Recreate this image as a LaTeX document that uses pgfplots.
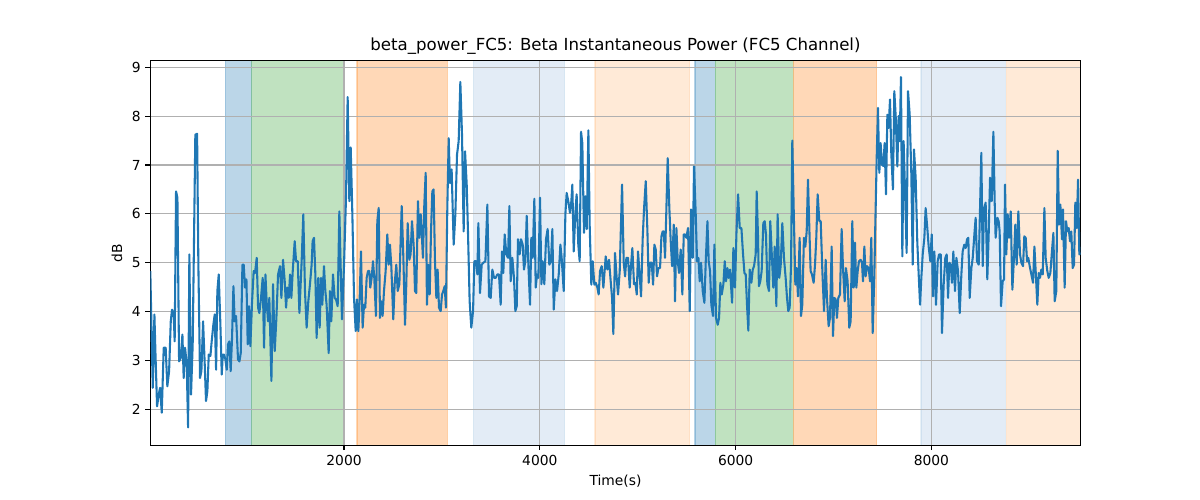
\documentclass[border=0pt]{standalone}
\usepackage{pgfplots}
\pgfplotsset{compat=1.18}
\usepackage{fontspec}
\setmainfont{DejaVu Sans}
\definecolor{tabblue}{HTML}{1F77B4}
\definecolor{tabgreen}{HTML}{2CA02C}
\definecolor{taborange}{HTML}{FF7F0E}
\definecolor{spanblue}{RGB}{187,214,232}
\definecolor{spangreen}{RGB}{192,226,192}
\definecolor{spanorange}{RGB}{255,216,183}
\definecolor{spanlblue}{RGB}{227,236,246}
\definecolor{spanlorange}{RGB}{255,234,215}
\definecolor{gridgray}{HTML}{B0B0B0}
\begin{document}
\begin{tikzpicture}
\path (0,0) rectangle (12in,5in);
\begin{axis}[
  set layers,
  clip mode=individual,
  at={(1.503in,0.547in)}, anchor=south west,
  width=9.304in, height=3.846in, scale only axis,
  xmin=21, xmax=9525, ymin=1.263, ymax=9.135,
  xtick={2000,4000,6000,8000}, ytick={2,3,4,5,6,7,8,9},
  grid=major, grid style={color=gridgray, line width=0.8pt},
  tick align=outside, tick pos=left, major tick length=3.5pt,
  tick style={black, line width=0.8pt},
  axis line style={line width=0.8pt},
  xlabel={Time(s)}, ylabel={dB},
  title={beta\_power\_FC5: Beta Instantaneous Power (FC5 Channel)},
  ticklabel style={font=\fontsize{10}{12}\selectfont},
  label style={font=\fontsize{10}{12}\selectfont},
  title style={font=\fontsize{12}{14}\selectfont, yshift=-5pt},
  /pgf/number format/assume math mode=true,
  scaled x ticks=false,
  /pgf/number format/1000 sep={},
]
\addplot[fill=spanblue, draw=tabblue, draw opacity=0.3, line width=1pt, on layer=axis background] coordinates {(788,0) (1057,0) (1057,10) (788,10) (788,0)};
\addplot[fill=spangreen, draw=tabgreen, draw opacity=0.3, line width=1pt, on layer=axis background] coordinates {(1057,0) (2000,0) (2000,10) (1057,10) (1057,0)};
\addplot[fill=spanorange, draw=taborange, draw opacity=0.3, line width=1pt, on layer=axis background] coordinates {(2133,0) (3055,0) (3055,10) (2133,10) (2133,0)};
\addplot[fill=spanlblue, draw=tabblue, draw opacity=0.1, line width=1pt, on layer=axis background] coordinates {(3321,0) (4254,0) (4254,10) (3321,10) (3321,0)};
\addplot[fill=spanlorange, draw=taborange, draw opacity=0.15, line width=1pt, on layer=axis background] coordinates {(4564,0) (5531,0) (5531,10) (4564,10) (4564,0)};
\addplot[fill=spanblue, draw=tabblue, draw opacity=0.3, line width=1pt, on layer=axis background] coordinates {(5585,0) (5793,0) (5793,10) (5585,10) (5585,0)};
\addplot[fill=spangreen, draw=tabgreen, draw opacity=0.3, line width=1pt, on layer=axis background] coordinates {(5793,0) (6589,0) (6589,10) (5793,10) (5793,0)};
\addplot[fill=spanorange, draw=taborange, draw opacity=0.3, line width=1pt, on layer=axis background] coordinates {(6589,0) (7441,0) (7441,10) (6589,10) (6589,0)};
\addplot[fill=spanlblue, draw=tabblue, draw opacity=0.1, line width=1pt, on layer=axis background] coordinates {(7894,0) (8755,0) (8755,10) (7894,10) (7894,0)};
\addplot[fill=spanlorange, draw=taborange, draw opacity=0.15, line width=1pt, on layer=axis background] coordinates {(8769,0) (9600,0) (9600,10) (8769,10) (8769,0)};
\addplot[color=tabblue, line width=1.5pt, line join=round] table {
x y
21 4.83
46 2.44
63 3.94
73 3.19
90 2.06
107 2.30
121 2.44
138 1.93
158 3.26
178 3.26
195 2.47
213 2.78
230 3.80
243 4.04
260 3.94
270 3.39
284 6.46
298 6.33
315 2.98
332 3.05
349 3.53
362 2.64
376 3.26
393 2.92
407 1.63
420 5.17
437 2.30
454 3.33
481 7.62
499 7.64
512 4.96
529 2.64
543 2.78
560 3.80
577 2.92
590 2.17
604 2.37
618 3.12
635 3.09
648 3.39
665 3.73
679 3.94
693 2.81
706 4.42
720 4.76
737 3.73
751 2.71
761 3.12
774 3.12
788 3.02
802 2.81
815 3.33
829 3.39
842 2.78
856 3.46
870 4.52
883 3.80
897 3.91
917 3.02
931 2.98
945 3.15
962 4.96
975 4.96
989 4.49
1003 4.66
1016 3.33
1030 4.11
1043 3.29
1060 4.18
1077 4.83
1091 4.79
1108 5.10
1122 4.08
1135 3.97
1152 4.28
1169 4.69
1183 3.26
1197 4.76
1210 4.18
1224 3.80
1237 4.28
1258 2.58
1275 4.56
1292 3.19
1309 3.87
1326 4.76
1346 4.93
1360 4.28
1377 5.06
1394 4.62
1408 4.08
1421 4.49
1435 4.28
1449 4.76
1462 4.28
1476 4.83
1496 5.44
1510 5.03
1527 5.03
1544 3.97
1567 5.03
1584 5.99
1601 4.42
1618 3.67
1635 4.21
1652 4.56
1669 4.96
1679 5.44
1693 5.51
1707 4.76
1720 3.46
1737 4.69
1751 3.67
1765 4.69
1778 4.14
1795 4.93
1809 4.42
1822 4.14
1843 3.15
1856 4.42
1870 3.80
1887 4.76
1904 4.28
1918 4.25
1935 4.11
1952 6.05
1965 4.96
1979 3.84
2000 4.96
2020 6.33
2037 8.39
2054 6.26
2068 7.36
2085 5.99
2102 4.28
2119 3.60
2132 4.25
2146 3.60
2159 4.21
2173 5.23
2190 3.67
2204 4.14
2217 4.08
2231 4.69
2245 4.83
2258 4.83
2268 4.49
2282 4.69
2296 5.03
2309 4.69
2326 3.91
2340 5.85
2354 6.12
2367 3.87
2381 4.21
2394 3.91
2408 4.42
2425 4.83
2442 5.58
2456 4.96
2469 5.37
2483 4.93
2503 3.84
2517 4.56
2534 4.96
2548 4.42
2565 4.56
2589 6.16
2606 5.10
2623 3.73
2636 4.56
2650 5.81
2667 5.06
2680 5.17
2694 5.85
2711 5.37
2725 4.42
2738 4.38
2755 6.26
2769 5.51
2783 5.99
2796 5.51
2806 5.10
2820 6.19
2834 6.84
2847 4.14
2861 4.96
2875 4.35
2888 5.61
2902 6.46
2915 6.50
2929 5.03
2943 4.28
2956 4.86
2970 4.08
2987 4.01
3001 4.35
3014 4.42
3028 4.52
3041 4.08
3055 6.12
3069 7.55
3082 6.63
3099 6.91
3120 5.37
3137 5.99
3154 7.21
3171 7.49
3188 8.70
3205 7.62
3222 5.64
3236 7.28
3253 6.60
3266 5.64
3283 4.21
3300 3.67
3318 4.01
3331 5.03
3348 5.03
3362 4.76
3372 5.81
3389 4.38
3406 4.96
3423 5.00
3444 5.03
3464 6.19
3481 4.31
3498 4.28
3515 4.86
3532 4.69
3549 4.69
3566 4.76
3583 4.76
3600 4.14
3614 5.23
3627 4.79
3641 5.58
3658 5.17
3675 5.10
3689 6.16
3702 4.62
3719 5.10
3736 4.69
3750 4.01
3764 4.11
3777 5.48
3794 5.17
3808 5.48
3825 5.37
3838 4.86
3852 5.03
3866 5.96
3883 4.96
3900 4.14
3913 5.51
3927 5.10
3944 6.31
3958 4.49
3971 4.76
3985 4.69
4002 6.33
4016 4.56
4029 5.03
4046 4.56
4063 5.48
4080 5.69
4097 4.96
4114 5.03
4128 5.69
4142 4.04
4159 4.66
4176 4.42
4193 4.76
4210 5.37
4223 5.10
4244 4.42
4261 5.99
4274 6.43
4291 6.26
4308 6.02
4322 6.26
4332 6.60
4346 5.23
4363 6.02
4376 6.40
4393 5.37
4407 5.03
4421 7.68
4434 7.45
4451 5.61
4465 6.36
4479 5.69
4496 7.71
4509 5.78
4526 4.55
4540 5.03
4557 4.55
4571 4.59
4588 4.49
4601 4.35
4615 4.83
4632 4.93
4649 4.49
4673 5.13
4690 4.86
4707 5.06
4721 4.69
4738 4.28
4751 3.54
4768 5.20
4785 4.69
4799 4.35
4816 4.83
4840 6.60
4857 5.00
4871 4.72
4884 5.10
4901 5.10
4918 4.49
4932 4.96
4945 5.30
4962 4.56
4976 4.59
4990 4.35
5003 5.23
5017 4.83
5034 4.31
5051 5.51
5065 6.12
5082 6.67
5099 5.64
5112 4.59
5126 5.00
5143 5.00
5157 4.55
5170 5.37
5184 5.27
5197 4.72
5211 4.89
5228 4.89
5242 5.54
5255 5.64
5266 5.64
5279 5.10
5293 6.12
5306 7.14
5323 6.12
5337 5.44
5351 4.93
5368 5.78
5381 4.21
5395 5.71
5409 5.03
5422 4.79
5439 5.27
5456 4.35
5470 5.58
5483 5.58
5497 5.51
5514 5.71
5531 4.01
5545 6.09
5562 5.10
5575 6.97
5592 6.02
5606 5.03
5620 5.10
5633 4.62
5647 5.00
5664 4.42
5681 4.18
5695 5.03
5712 5.85
5725 5.03
5739 4.83
5752 4.14
5769 3.91
5783 5.37
5800 3.87
5817 3.73
5831 3.87
5844 4.59
5858 4.35
5875 4.56
5889 5.03
5902 4.62
5916 4.89
5929 4.69
5943 4.86
5964 4.18
5977 5.30
5994 4.49
6008 5.58
6025 6.40
6042 5.71
6059 5.71
6076 5.17
6090 4.79
6103 4.76
6117 4.11
6130 3.61
6144 4.86
6161 4.59
6175 4.86
6188 4.93
6205 5.17
6215 6.46
6228 5.58
6238 4.52
6252 4.62
6266 4.83
6283 5.81
6297 5.85
6310 5.58
6324 4.56
6341 4.42
6354 5.85
6371 5.10
6385 4.49
6399 5.33
6416 4.11
6429 5.99
6446 4.69
6460 4.93
6477 5.81
6494 5.10
6511 4.69
6525 4.28
6538 4.01
6552 4.08
6566 4.96
6579 7.50
6593 6.12
6610 4.55
6623 4.89
6637 4.31
6654 5.51
6668 3.91
6681 4.14
6698 5.51
6712 5.33
6726 5.64
6739 6.70
6753 5.71
6766 4.83
6780 4.76
6797 4.59
6811 4.96
6824 5.51
6838 6.40
6855 5.85
6869 5.85
6886 4.83
6903 4.01
6920 5.06
6933 4.28
6950 3.70
6964 3.87
6981 5.33
6995 3.50
7008 4.28
7022 4.25
7035 3.87
7049 4.28
7066 4.35
7083 5.69
7097 4.89
7114 4.21
7127 4.89
7144 4.62
7161 3.67
7175 3.80
7192 5.85
7206 4.49
7219 5.41
7233 4.49
7247 4.83
7260 5.03
7277 5.06
7291 5.00
7301 4.62
7315 5.33
7328 4.72
7342 4.93
7359 4.89
7373 4.62
7386 5.51
7400 3.56
7417 4.76
7427 5.78
7441 7.14
7454 8.17
7468 6.84
7481 7.45
7495 7.01
7509 6.98
7522 7.45
7536 6.40
7550 8.03
7563 7.76
7577 8.34
7590 7.25
7607 6.50
7621 8.51
7635 8.00
7652 6.97
7665 8.00
7676 7.49
7689 8.80
7703 5.13
7716 7.49
7730 6.50
7747 5.20
7761 8.51
7778 8.03
7795 6.80
7809 4.96
7822 7.32
7839 6.74
7856 5.41
7870 4.76
7884 4.14
7897 4.69
7911 5.17
7928 5.51
7941 6.12
7958 5.71
7972 5.33
7989 5.03
8003 5.58
8016 4.31
8030 5.23
8047 4.14
8064 5.03
8078 5.17
8095 5.17
8108 3.56
8125 4.55
8142 5.10
8156 5.17
8170 4.28
8183 5.00
8197 4.96
8210 4.59
8224 5.23
8241 4.42
8255 5.10
8272 4.83
8289 3.97
8306 4.76
8319 5.23
8336 5.37
8350 5.30
8364 5.48
8377 5.51
8391 4.28
8408 4.89
8422 5.10
8439 5.58
8452 5.92
8466 5.03
8483 4.96
8496 6.05
8510 7.25
8524 4.93
8537 6.09
8554 6.23
8571 4.66
8585 5.58
8599 6.74
8616 6.26
8633 7.68
8646 6.26
8656 5.51
8674 5.92
8687 5.85
8697 5.64
8711 4.11
8728 4.62
8742 4.66
8752 6.60
8765 5.17
8779 5.99
8793 5.51
8810 6.05
8827 4.45
8844 5.13
8857 5.78
8871 4.96
8888 6.05
8905 5.17
8919 5.00
8936 4.93
8949 5.54
8963 5.51
8977 5.03
8990 5.10
9004 4.93
9021 4.76
9038 4.59
9052 5.33
9065 4.83
9082 4.14
9096 4.79
9109 4.69
9123 4.86
9137 4.76
9154 6.12
9167 5.10
9184 4.83
9198 4.69
9215 4.79
9229 5.17
9246 5.61
9259 4.21
9276 4.42
9290 7.29
9304 5.78
9317 6.19
9334 5.48
9344 6.09
9361 4.49
9375 5.85
9388 5.64
9402 5.71
9416 5.44
9429 5.64
9443 4.89
9457 4.96
9470 6.23
9484 5.71
9498 6.70
9511 5.17
9525 5.20
};
\end{axis}
\end{tikzpicture}
\end{document}
